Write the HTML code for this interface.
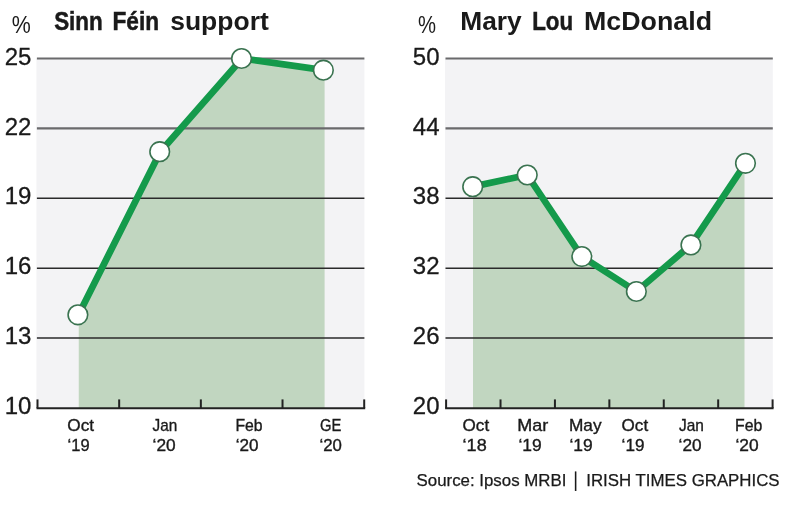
<!DOCTYPE html>
<html><head><meta charset="utf-8"><title>Chart</title>
<style>
html,body{margin:0;padding:0;background:#fff;}
body{width:800px;height:509px;overflow:hidden;font-family:"Liberation Sans",sans-serif;}
svg{display:block;will-change:transform;}
text{font-family:"Liberation Sans",sans-serif;fill:#1a1a1a;}
.t{font-weight:bold;font-size:26px;}
.y{font-size:24px;text-anchor:end;stroke:#1a1a1a;stroke-width:0.3px;}
.x{font-size:16.2px;stroke:#1a1a1a;stroke-width:0.35px;}
.s{font-size:16px;stroke:#1a1a1a;stroke-width:0.25px;}
</style></head><body>
<svg width="800" height="509" viewBox="0 0 800 509">
<rect width="800" height="509" fill="#fff"/>
<rect x="36.40" y="58.5" width="328.00" height="349.5" fill="#f3f3f5"/>
<polygon points="78.75,408 78.75,314.80 160.70,151.70 242.65,58.50 324.60,70.15 324.60,408" fill="#c1d6c0"/>
<line x1="36.90" y1="58.50" x2="364.40" y2="58.50" stroke="#6a6a6c" stroke-width="2.1"/>
<line x1="36.90" y1="128.40" x2="364.40" y2="128.40" stroke="#6a6a6c" stroke-width="2.1"/>
<line x1="36.90" y1="198.30" x2="364.40" y2="198.30" stroke="#2a2a2a" stroke-width="1.5"/>
<line x1="36.90" y1="268.20" x2="364.40" y2="268.20" stroke="#2a2a2a" stroke-width="1.5"/>
<line x1="36.90" y1="338.10" x2="364.40" y2="338.10" stroke="#2a2a2a" stroke-width="1.5"/>
<line x1="36.50" y1="408.25" x2="365.20" y2="408.25" stroke="#222" stroke-width="2.2"/>
<line x1="37.50" y1="399.4" x2="37.50" y2="408" stroke="#222" stroke-width="2"/>
<line x1="119.17" y1="399.4" x2="119.17" y2="408" stroke="#222" stroke-width="2"/>
<line x1="200.85" y1="399.4" x2="200.85" y2="408" stroke="#222" stroke-width="2"/>
<line x1="282.52" y1="399.4" x2="282.52" y2="408" stroke="#222" stroke-width="2"/>
<line x1="364.20" y1="399.4" x2="364.20" y2="408" stroke="#222" stroke-width="2"/>
<polyline points="78.50,314.80 160.33,151.70 242.16,58.50 323.99,70.15" fill="none" stroke="#149a4b" stroke-width="6.7" stroke-linejoin="round" stroke-linecap="round"/>
<circle cx="77.90" cy="314.80" r="9.8" fill="#fff" stroke="#3a7350" stroke-width="1.6"/>
<circle cx="159.73" cy="151.70" r="9.8" fill="#fff" stroke="#3a7350" stroke-width="1.6"/>
<circle cx="241.56" cy="58.50" r="9.8" fill="#fff" stroke="#3a7350" stroke-width="1.6"/>
<circle cx="323.39" cy="70.15" r="9.8" fill="#fff" stroke="#3a7350" stroke-width="1.6"/>
<text class="y" x="31.4" y="64.6">25</text>
<text class="y" x="31.4" y="134.5">22</text>
<text class="y" x="31.4" y="204.4">19</text>
<text class="y" x="31.4" y="274.3">16</text>
<text class="y" x="31.4" y="344.2">13</text>
<text class="y" x="31.4" y="414.1">10</text>
<rect x="445.00" y="58.5" width="327.80" height="349.5" fill="#f3f3f5"/>
<polygon points="473.00,408 473.00,186.65 527.30,175.00 581.60,256.55 635.90,291.50 690.20,244.90 744.50,163.35 744.50,408" fill="#c1d6c0"/>
<line x1="445.50" y1="58.50" x2="772.80" y2="58.50" stroke="#6a6a6c" stroke-width="2.1"/>
<line x1="445.50" y1="128.40" x2="772.80" y2="128.40" stroke="#6a6a6c" stroke-width="2.1"/>
<line x1="445.50" y1="198.30" x2="772.80" y2="198.30" stroke="#2a2a2a" stroke-width="1.5"/>
<line x1="445.50" y1="268.20" x2="772.80" y2="268.20" stroke="#2a2a2a" stroke-width="1.5"/>
<line x1="445.50" y1="338.10" x2="772.80" y2="338.10" stroke="#2a2a2a" stroke-width="1.5"/>
<line x1="445.10" y1="408.25" x2="773.60" y2="408.25" stroke="#222" stroke-width="2.2"/>
<line x1="446.10" y1="399.4" x2="446.10" y2="408" stroke="#222" stroke-width="2"/>
<line x1="500.52" y1="399.4" x2="500.52" y2="408" stroke="#222" stroke-width="2"/>
<line x1="554.93" y1="399.4" x2="554.93" y2="408" stroke="#222" stroke-width="2"/>
<line x1="609.35" y1="399.4" x2="609.35" y2="408" stroke="#222" stroke-width="2"/>
<line x1="663.77" y1="399.4" x2="663.77" y2="408" stroke="#222" stroke-width="2"/>
<line x1="718.18" y1="399.4" x2="718.18" y2="408" stroke="#222" stroke-width="2"/>
<line x1="772.60" y1="399.4" x2="772.60" y2="408" stroke="#222" stroke-width="2"/>
<polyline points="472.70,186.65 527.26,175.00 581.82,256.55 636.38,291.50 690.94,244.90 745.50,163.35" fill="none" stroke="#149a4b" stroke-width="6.7" stroke-linejoin="round" stroke-linecap="round"/>
<circle cx="472.70" cy="186.65" r="9.8" fill="#fff" stroke="#3a7350" stroke-width="1.6"/>
<circle cx="527.26" cy="175.00" r="9.8" fill="#fff" stroke="#3a7350" stroke-width="1.6"/>
<circle cx="581.82" cy="256.55" r="9.8" fill="#fff" stroke="#3a7350" stroke-width="1.6"/>
<circle cx="636.38" cy="291.50" r="9.8" fill="#fff" stroke="#3a7350" stroke-width="1.6"/>
<circle cx="690.94" cy="244.90" r="9.8" fill="#fff" stroke="#3a7350" stroke-width="1.6"/>
<circle cx="745.50" cy="163.35" r="9.8" fill="#fff" stroke="#3a7350" stroke-width="1.6"/>
<text class="y" x="439.5" y="64.6">50</text>
<text class="y" x="439.5" y="134.5">44</text>
<text class="y" x="439.5" y="204.4">38</text>
<text class="y" x="439.5" y="274.3">32</text>
<text class="y" x="439.5" y="344.2">26</text>
<text class="y" x="439.5" y="414.1">20</text>
<text x="11.7" y="32.6" style="font-size:24px" textLength="19" lengthAdjust="spacingAndGlyphs">%</text>
<text x="418" y="32.6" style="font-size:24px" textLength="18" lengthAdjust="spacingAndGlyphs">%</text>
<text class="t" x="54.14" y="29.6" textLength="48.66" lengthAdjust="spacingAndGlyphs" stroke="#1a1a1a" stroke-width="0.5">Sinn</text>
<text class="t" x="112.53" y="29.6" textLength="46.62" lengthAdjust="spacingAndGlyphs" stroke="#1a1a1a" stroke-width="0.5">Féin</text>
<text class="t" x="170.23" y="29.6" textLength="98.53" lengthAdjust="spacingAndGlyphs">support</text>
<text class="t" x="460.24" y="29.6" textLength="61.46" lengthAdjust="spacingAndGlyphs">Mary</text>
<text class="t" x="532.14" y="29.6" textLength="40.92" lengthAdjust="spacingAndGlyphs" stroke="#1a1a1a" stroke-width="0.5">Lou</text>
<text class="t" x="583.97" y="29.6" textLength="128.05" lengthAdjust="spacingAndGlyphs">McDonald</text>
<text class="x" x="67.3" y="431.2" textLength="26.74" lengthAdjust="spacingAndGlyphs">Oct</text>
<text class="x" x="67.6" y="450.8" textLength="22.02" lengthAdjust="spacingAndGlyphs">‘19</text>
<text class="x" x="152.6" y="431.2" textLength="24.7" lengthAdjust="spacingAndGlyphs">Jan</text>
<text class="x" x="152.6" y="450.8" textLength="23.08" lengthAdjust="spacingAndGlyphs">‘20</text>
<text class="x" x="235.43" y="431.2" textLength="27.18" lengthAdjust="spacingAndGlyphs">Feb</text>
<text class="x" x="235.8" y="450.8" textLength="22.79" lengthAdjust="spacingAndGlyphs">‘20</text>
<text class="x" x="320.0" y="431.2" textLength="21.36" lengthAdjust="spacingAndGlyphs">GE</text>
<text class="x" x="319.5" y="450.8" textLength="22.4" lengthAdjust="spacingAndGlyphs">‘20</text>
<text class="x" x="462.6" y="431.2" textLength="26.54" lengthAdjust="spacingAndGlyphs">Oct</text>
<text class="x" x="462.6" y="450.8" textLength="24.08" lengthAdjust="spacingAndGlyphs">‘18</text>
<text class="x" x="517.39" y="431.2" textLength="30.99" lengthAdjust="spacingAndGlyphs">Mar</text>
<text class="x" x="518.4" y="450.8" textLength="23.26" lengthAdjust="spacingAndGlyphs">‘19</text>
<text class="x" x="568.93" y="431.2" textLength="32.63" lengthAdjust="spacingAndGlyphs">May</text>
<text class="x" x="569.4" y="450.8" textLength="23.26" lengthAdjust="spacingAndGlyphs">‘19</text>
<text class="x" x="621.6" y="431.2" textLength="26.54" lengthAdjust="spacingAndGlyphs">Oct</text>
<text class="x" x="621.6" y="450.8" textLength="22.84" lengthAdjust="spacingAndGlyphs">‘19</text>
<text class="x" x="679.0" y="431.2" textLength="24.9" lengthAdjust="spacingAndGlyphs">Jan</text>
<text class="x" x="678.6" y="450.8" textLength="22.98" lengthAdjust="spacingAndGlyphs">‘20</text>
<text class="x" x="735.02" y="431.2" textLength="27.29" lengthAdjust="spacingAndGlyphs">Feb</text>
<text class="x" x="735.4" y="450.8" textLength="23.18" lengthAdjust="spacingAndGlyphs">‘20</text>
<text class="s" x="416.6" y="486" textLength="363" lengthAdjust="spacingAndGlyphs">Source: Ipsos MRBI │ IRISH TIMES GRAPHICS</text>
</svg></body></html>
